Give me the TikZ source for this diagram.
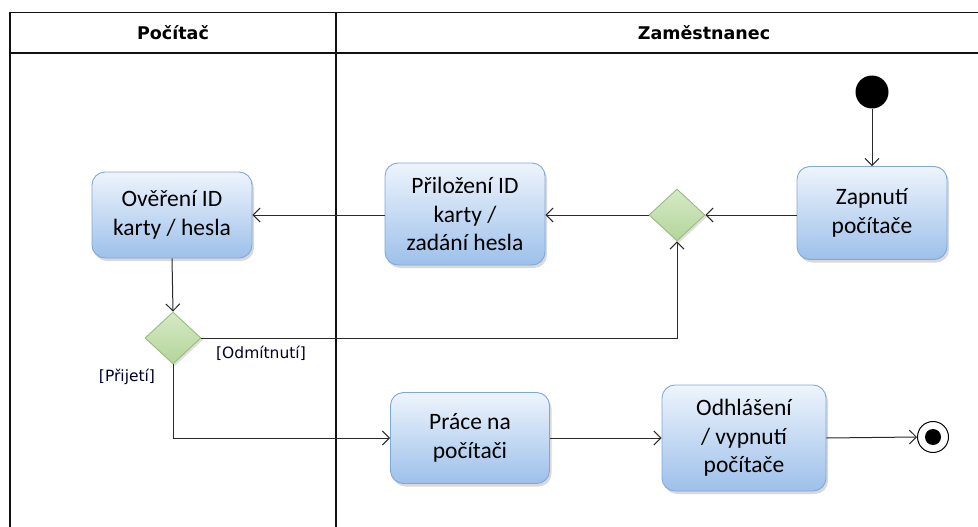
\documentclass[tikz,border=0pt]{standalone}
\usepackage{fontspec}
\setmainfont{Carlito}
\newfontfamily\headfont{DejaVu Sans}
\usetikzlibrary{arrows.meta,shapes.geometric,shadows,positioning}

\definecolor{lanecol}{HTML}{111111}
\definecolor{flowcol}{HTML}{2A2A2A}
\definecolor{acttop}{HTML}{EEF4FC}
\definecolor{actbot}{HTML}{9DC0EA}
\definecolor{actedge}{HTML}{7EA8DA}
\definecolor{dectop}{HTML}{D6E9C6}
\definecolor{decbot}{HTML}{B3D59A}
\definecolor{decedge}{HTML}{97BD7E}

\tikzset{
  lane/.style={draw=lanecol, line width=1.3pt},
  lanehead/.style={font=\headfont\bfseries\fontsize{17.5}{20}\selectfont},
  activity/.style={rounded corners=13pt, draw=actedge, line width=0.9pt,
    top color=acttop, bottom color=actbot, align=center,
    font=\fontsize{23.5}{28.5}\selectfont, inner sep=0pt,
    drop shadow={shadow xshift=2pt, shadow yshift=-3pt, opacity=0.3}},
  decision/.style={diamond, draw=decedge, line width=0.9pt,
    top color=dectop, bottom color=decbot, inner sep=0pt,
    minimum width=56pt, minimum height=52pt,
    drop shadow={shadow xshift=2pt, shadow yshift=-2pt, opacity=0.25}},
  flow/.style={draw=flowcol, line width=1pt,
    -{Straight Barb[length=7pt,width=14pt,line width=1pt]}},
  guard/.style={font=\headfont\fontsize{15.5}{18}\selectfont, text=black!85!blue},
}

\begin{document}
\begin{tikzpicture}[x=1pt,y=-1pt]
  \useasboundingbox (0,0) rectangle (978,527);

  % swimlanes
  \draw[lane] (978,12.5) -- (10,12.5) -- (10,527);
  \draw[lane] (10,53) -- (978,53);
  \draw[lane] (336,12.5) -- (336,527);
  \node[lanehead] (hpc) at (173,33) {Počítač};
  \node[lanehead] (hemp) at (704,33) {Zaměstnanec};

  % actions
  \node[activity, minimum width=160pt, minimum height=86pt] (over) at (172,215)
    {Ověření ID\\karty / hesla};
  \node[activity, minimum width=160pt, minimum height=102pt] (prilo) at (465,214)
    {Přiložení ID\\karty /\\zadání hesla};
  \node[activity, minimum width=150pt, minimum height=93pt] (zap) at (872,213)
    {Zapnutí\\počítače};
  \node[activity, minimum width=159pt, minimum height=91pt] (prace) at (470,438)
    {Práce na\\počítači};
  \node[activity, minimum width=164pt, minimum height=106pt] (odhl) at (744,438)
    {Odhlášení\\/ vypnutí\\počítače};

  % decisions
  \node[decision] (d1) at (677,215) {};
  \node[decision] (d2) at (173,338) {};

  % initial and final states
  \node[circle, fill=black, minimum size=33pt, inner sep=0pt] (start) at (872,92) {};
  \node[circle, draw=black, line width=1pt, fill=white, minimum size=31pt, inner sep=0pt] (fin) at (933,437) {};
  \node[circle, fill=black, minimum size=16pt, inner sep=0pt] (finc) at (fin) {};

  % flows
  \draw[flow] (start) -- (zap);
  \draw[flow] (zap.west |- d1) -- (d1.east);
  \draw[flow] (d1.west) -- (prilo.east |- d1);
  \draw[flow] (prilo.west |- over) -- (over.east);
  \draw[flow] (over.south) -- (d2.north);
  \draw[flow] (d2.east) -| (d1.south);
  \draw[flow] (d2.south) |- (prace.west);
  \draw[flow] (prace.east) -- (odhl.west);
  \draw[flow] (odhl.east) -- (fin.west);

  % guards
  \node[guard] (gno) at (261,353) {[Odmítnutí]};
  \node[guard] (gyes) at (127,377) {[Přijetí]};
\end{tikzpicture}
\end{document}
